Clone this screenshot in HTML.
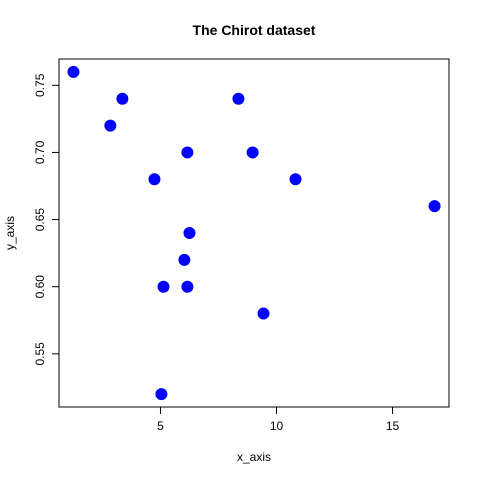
<!DOCTYPE html>
<html><head><meta charset="utf-8"><style>
body{margin:0;background:#fff}
svg{display:block;font-family:"Liberation Sans",Arial,sans-serif}
</style></head><body>
<svg id="chart" width="480" height="480">
<rect width="480" height="480" fill="#fff"/>
<text x="254" y="35" text-anchor="middle" font-size="14" font-weight="bold">The Chirot dataset</text>
<rect x="59" y="59" width="390" height="348" fill="none" stroke="#000"/>
<text x="254" y="461" text-anchor="middle" font-size="12">x_axis</text>
<text transform="translate(14,233) rotate(-90)" text-anchor="middle" font-size="12">y_axis</text>
<g id="xa"></g><g id="ya"></g><g id="pts"></g>
</svg>
<script>
const xValues=[1.25,3.36,2.84,4.74,6.16,8.36,8.97,10.82,16.81,6.25,6.03,5.13,6.16,9.44,5.04];
const yValues=[0.76,0.74,0.72,0.68,0.70,0.74,0.70,0.68,0.66,0.64,0.62,0.60,0.60,0.58,0.52];
const xTicks=[5,10,15];
const yTicks=[0.55,0.60,0.65,0.70,0.75];
const yTickLabels=["0.55","0.60","0.65","0.70","0.75"];
const NS="http://www.w3.org/2000/svg";
const L=59,R=449,T=59,B=407;
function ext(a){const mn=Math.min(...a),mx=Math.max(...a),p=(mx-mn)*0.04;return[mn-p,mx+p];}
const [x0,x1]=ext(xValues),[y0,y1]=ext(yValues);
const sx=v=>L+(v-x0)/(x1-x0)*(R-L);
const sy=v=>B-(v-y0)/(y1-y0)*(B-T);
function mk(t,a,p){const e=document.createElementNS(NS,t);for(const k in a)e.setAttribute(k,a[k]);p.appendChild(e);return e;}
const xa=document.getElementById('xa'),ya=document.getElementById('ya'),pts=document.getElementById('pts');
mk('line',{x1:sx(xTicks[0]),x2:sx(xTicks[xTicks.length-1]),y1:B,y2:B,stroke:'#000'},xa);
xTicks.forEach(v=>{
  const l=mk('line',{x1:sx(v),x2:sx(v),y1:B,y2:B+7,stroke:'#000'},xa);
  
  
  const t=mk('text',{x:sx(v),y:B+23,'text-anchor':'middle','font-size':12},xa);t.textContent=v;
  
  
});
mk('line',{x1:L,x2:L,y1:sy(yTicks[0]),y2:sy(yTicks[yTicks.length-1]),stroke:'#000'},ya);
yTicks.forEach((v,i)=>{
  const l=mk('line',{x1:L-7,x2:L,y1:sy(v),y2:sy(v),stroke:'#000'},ya);
  
  
  const t=mk('text',{transform:`translate(${L-15},${sy(v)}) rotate(-90)`,'text-anchor':'middle','font-size':12},ya);t.textContent=yTickLabels[i];
  
  
});
xValues.forEach((v,i)=>{
  const c=mk('circle',{cx:sx(v),cy:sy(yValues[i]),r:5.5,fill:'#0000ff',stroke:'#0000ff','stroke-width':1},pts);
  
  
});
</script>
</body></html>
